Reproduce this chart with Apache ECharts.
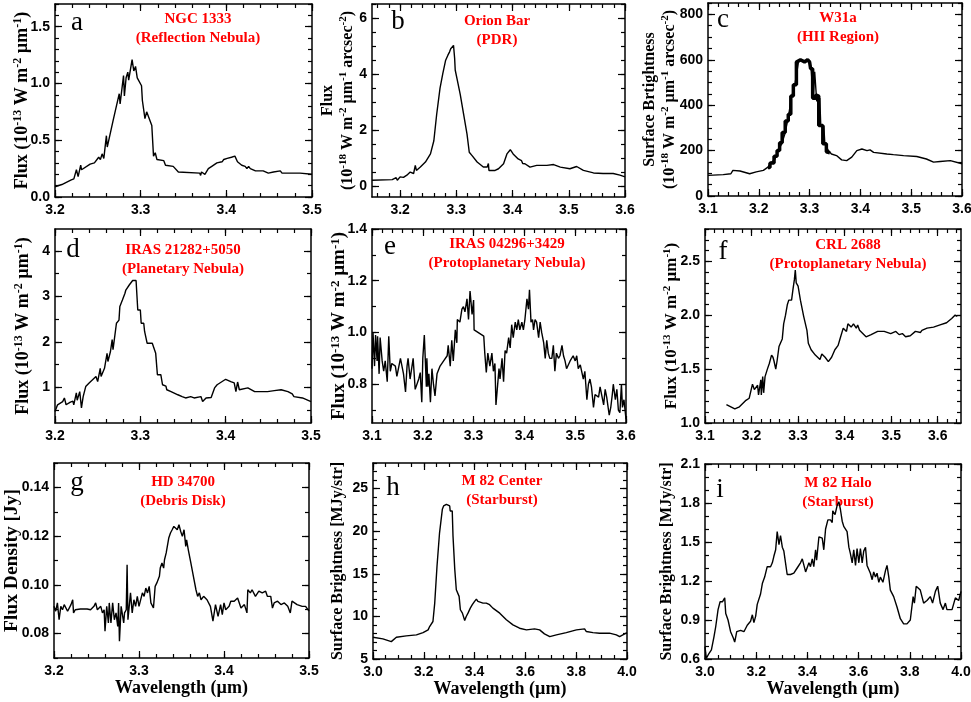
<!DOCTYPE html>
<html>
<head>
<meta charset="utf-8">
<script src="https://cdn.jsdelivr.net/npm/echarts@6/dist/echarts.min.js"></script>
</head>
<body style="margin:0">
<div id="container" style="width:971px;height:702px"></div>
<script type="text/javascript">

// ---- spectra: [wavelength (um), value] ----
var ngc1333 = [[3.200,0.09],[3.208,0.11],[3.219,0.15],[3.222,0.16],[3.225,0.24],[3.227,0.18],[3.230,0.28],[3.231,0.24],[3.241,0.29],[3.246,0.30],[3.251,0.35],[3.253,0.33],[3.255,0.38],[3.257,0.34],[3.260,0.54],[3.261,0.44],[3.268,0.68],[3.275,0.91],[3.276,0.82],[3.280,1.07],[3.281,0.89],[3.283,1.05],[3.285,1.10],[3.286,1.03],[3.290,1.21],[3.292,1.11],[3.294,1.15],[3.296,1.05],[3.301,0.98],[3.302,0.85],[3.304,0.84],[3.305,0.69],[3.307,0.75],[3.309,0.74],[3.313,0.63],[3.315,0.36],[3.317,0.39],[3.319,0.33],[3.327,0.32],[3.329,0.28],[3.338,0.27],[3.344,0.22],[3.346,0.21],[3.369,0.21],[3.370,0.19],[3.371,0.22],[3.375,0.20],[3.379,0.25],[3.383,0.27],[3.389,0.30],[3.395,0.31],[3.397,0.33],[3.401,0.34],[3.406,0.35],[3.410,0.36],[3.413,0.31],[3.418,0.28],[3.422,0.27],[3.424,0.25],[3.426,0.27],[3.428,0.25],[3.434,0.23],[3.443,0.23],[3.449,0.21],[3.455,0.22],[3.463,0.23],[3.465,0.21],[3.477,0.21],[3.486,0.21],[3.500,0.20]];

var orionBar = [[3.150,0.20],[3.186,0.22],[3.193,0.29],[3.195,0.20],[3.200,0.32],[3.203,0.38],[3.206,0.30],[3.212,0.38],[3.218,0.49],[3.224,0.44],[3.227,0.73],[3.229,0.55],[3.236,0.67],[3.245,0.85],[3.254,1.14],[3.260,1.61],[3.265,2.55],[3.271,3.49],[3.276,4.02],[3.278,3.95],[3.281,4.49],[3.285,4.67],[3.288,4.79],[3.290,4.90],[3.295,5.02],[3.297,4.55],[3.298,4.14],[3.301,3.85],[3.307,3.26],[3.313,2.55],[3.319,1.85],[3.323,1.20],[3.328,1.08],[3.337,0.85],[3.348,0.67],[3.355,0.67],[3.357,0.80],[3.358,0.55],[3.369,0.55],[3.375,0.61],[3.384,0.79],[3.390,1.14],[3.396,1.29],[3.401,1.14],[3.410,0.96],[3.416,0.90],[3.418,0.80],[3.420,0.86],[3.422,0.79],[3.431,0.67],[3.443,0.73],[3.461,0.73],[3.473,0.76],[3.485,0.67],[3.502,0.61],[3.514,0.69],[3.526,0.55],[3.544,0.46],[3.561,0.44],[3.579,0.44],[3.591,0.38],[3.600,0.32]];

var w31a = [[3.100,91],[3.130,94],[3.145,98],[3.149,113],[3.163,110],[3.182,98],[3.195,106],[3.209,113],[3.218,127],[3.222,142],[3.232,163],[3.238,200],[3.245,229],[3.251,272],[3.258,344],[3.264,431],[3.271,489],[3.278,590],[3.284,597],[3.287,605],[3.294,597],[3.300,590],[3.303,561],[3.307,431],[3.310,547],[3.314,417],[3.320,431],[3.322,308],[3.328,308],[3.330,229],[3.337,200],[3.343,185],[3.353,178],[3.363,159],[3.373,156],[3.383,171],[3.393,200],[3.403,207],[3.413,200],[3.419,203],[3.426,192],[3.452,185],[3.465,182],[3.485,178],[3.511,174],[3.530,163],[3.544,149],[3.557,152],[3.577,156],[3.600,142]];
// heavy staircase drawn over the W31a band
var w31aSteps = [[3.218,125],[3.222,125],[3.222,145],[3.230,145],[3.230,175],[3.236,175],[3.236,200],[3.241,200],[3.241,235],[3.246,235],[3.246,280],[3.252,280],[3.252,330],[3.258,330],[3.258,360],[3.263,360],[3.263,440],[3.268,440],[3.268,490],[3.274,490],[3.274,590],[3.282,600],[3.290,590],[3.296,600],[3.300,590],[3.302,560],[3.306,560],[3.306,430],[3.312,430],[3.312,445],[3.318,440],[3.318,310],[3.326,310],[3.326,230],[3.333,230],[3.333,195],[3.340,190]];

var iras21282 = [[3.200,0.47],[3.203,0.62],[3.209,0.69],[3.211,0.77],[3.213,0.62],[3.218,0.68],[3.221,0.70],[3.222,0.62],[3.225,0.88],[3.226,0.72],[3.229,0.91],[3.231,0.55],[3.233,0.80],[3.236,1.02],[3.240,1.10],[3.244,1.17],[3.248,1.24],[3.250,1.13],[3.253,1.42],[3.254,1.24],[3.258,1.42],[3.261,1.75],[3.262,1.57],[3.265,1.79],[3.267,2.05],[3.268,1.83],[3.272,2.41],[3.275,2.48],[3.276,2.78],[3.279,2.92],[3.282,3.07],[3.283,3.14],[3.285,3.18],[3.287,3.25],[3.291,3.35],[3.295,3.35],[3.297,2.70],[3.300,2.70],[3.301,2.41],[3.304,2.41],[3.305,2.23],[3.308,1.97],[3.314,1.97],[3.318,1.75],[3.320,1.28],[3.324,1.28],[3.326,1.06],[3.330,1.03],[3.331,0.95],[3.336,0.91],[3.344,0.84],[3.349,0.80],[3.353,0.77],[3.359,0.80],[3.363,0.77],[3.371,0.80],[3.373,0.69],[3.377,0.77],[3.383,0.78],[3.387,0.99],[3.390,1.06],[3.400,1.18],[3.406,1.13],[3.410,1.10],[3.412,0.91],[3.414,1.12],[3.416,0.95],[3.426,0.99],[3.434,0.91],[3.442,0.91],[3.449,0.91],[3.457,0.93],[3.465,0.95],[3.473,0.91],[3.478,0.86],[3.480,0.80],[3.490,0.77],[3.500,0.69]];

var iras04296 = [[3.100,0.86],[3.102,1.00],[3.105,0.87],[3.107,0.99],[3.110,0.89],[3.111,0.985],[3.114,0.84],[3.116,0.98],[3.120,0.89],[3.123,0.85],[3.126,0.89],[3.130,0.81],[3.133,0.985],[3.136,0.85],[3.139,0.88],[3.146,0.87],[3.149,0.83],[3.156,0.90],[3.162,0.84],[3.166,0.77],[3.169,0.87],[3.171,0.90],[3.175,0.82],[3.181,0.90],[3.185,0.78],[3.192,0.82],[3.195,0.845],[3.198,0.73],[3.200,0.90],[3.203,0.99],[3.207,0.79],[3.208,0.90],[3.210,0.79],[3.212,0.84],[3.215,0.73],[3.218,0.86],[3.221,0.80],[3.224,0.755],[3.228,0.84],[3.234,0.87],[3.241,0.89],[3.248,0.91],[3.250,0.95],[3.254,0.87],[3.257,0.97],[3.260,0.89],[3.264,1.01],[3.267,0.96],[3.268,1.05],[3.273,1.04],[3.277,1.09],[3.280,1.10],[3.283,1.08],[3.287,1.13],[3.290,1.05],[3.293,1.16],[3.297,1.07],[3.300,1.125],[3.301,1.01],[3.320,0.986],[3.322,0.92],[3.325,0.845],[3.328,0.92],[3.332,0.87],[3.336,0.92],[3.339,0.85],[3.342,0.88],[3.344,0.72],[3.347,0.72],[3.350,0.86],[3.352,0.82],[3.356,0.90],[3.359,0.81],[3.362,0.93],[3.365,0.92],[3.369,0.98],[3.372,0.94],[3.375,1.03],[3.378,0.98],[3.382,1.04],[3.385,1.01],[3.388,1.05],[3.391,1.01],[3.395,1.04],[3.398,1.01],[3.401,1.05],[3.405,1.13],[3.408,1.09],[3.410,1.165],[3.413,1.04],[3.416,1.05],[3.418,1.01],[3.421,1.05],[3.424,1.04],[3.428,0.98],[3.431,1.04],[3.434,1.00],[3.438,0.96],[3.441,0.90],[3.444,0.97],[3.447,0.92],[3.450,0.90],[3.454,0.90],[3.457,0.95],[3.460,0.85],[3.463,0.92],[3.467,0.90],[3.470,0.91],[3.474,0.95],[3.477,0.91],[3.480,0.89],[3.483,0.86],[3.490,0.89],[3.496,0.91],[3.500,0.89],[3.503,0.91],[3.506,0.86],[3.510,0.875],[3.516,0.82],[3.519,0.85],[3.523,0.74],[3.526,0.80],[3.529,0.82],[3.532,0.79],[3.536,0.71],[3.539,0.76],[3.542,0.76],[3.546,0.75],[3.549,0.79],[3.552,0.76],[3.556,0.72],[3.559,0.78],[3.562,0.75],[3.567,0.68],[3.570,0.71],[3.573,0.76],[3.575,0.80],[3.579,0.74],[3.582,0.78],[3.585,0.70],[3.588,0.69],[3.591,0.80],[3.593,0.71],[3.596,0.74],[3.600,0.665]];

var crl2688 = [[3.146,1.17],[3.164,1.13],[3.174,1.15],[3.181,1.18],[3.188,1.21],[3.195,1.23],[3.202,1.36],[3.206,1.31],[3.209,1.30],[3.213,1.35],[3.215,1.26],[3.220,1.40],[3.221,1.26],[3.224,1.43],[3.226,1.28],[3.229,1.43],[3.234,1.50],[3.238,1.55],[3.243,1.63],[3.246,1.61],[3.248,1.58],[3.252,1.50],[3.255,1.58],[3.259,1.71],[3.262,1.74],[3.266,1.78],[3.269,1.92],[3.273,2.00],[3.277,2.10],[3.280,2.14],[3.286,2.14],[3.289,2.24],[3.291,2.30],[3.292,2.33],[3.294,2.42],[3.296,2.30],[3.300,2.27],[3.305,2.14],[3.312,1.99],[3.319,1.86],[3.322,1.74],[3.328,1.68],[3.337,1.63],[3.347,1.59],[3.351,1.64],[3.358,1.61],[3.365,1.57],[3.372,1.61],[3.379,1.68],[3.386,1.72],[3.390,1.78],[3.397,1.88],[3.404,1.85],[3.407,1.92],[3.414,1.89],[3.419,1.92],[3.425,1.88],[3.428,1.91],[3.432,1.86],[3.439,1.83],[3.446,1.80],[3.457,1.82],[3.471,1.85],[3.485,1.85],[3.499,1.83],[3.510,1.85],[3.517,1.82],[3.524,1.83],[3.531,1.80],[3.541,1.81],[3.552,1.85],[3.563,1.84],[3.566,1.86],[3.577,1.88],[3.591,1.89],[3.605,1.91],[3.619,1.93],[3.630,1.97],[3.637,2.00],[3.642,1.99]];

var hd34700 = [[3.200,0.0912],[3.202,0.0892],[3.204,0.0926],[3.206,0.0857],[3.208,0.0912],[3.210,0.0898],[3.212,0.0919],[3.216,0.0892],[3.220,0.0919],[3.222,0.0939],[3.223,0.0885],[3.225,0.0898],[3.231,0.0901],[3.239,0.0901],[3.243,0.0898],[3.247,0.0912],[3.249,0.0926],[3.251,0.0898],[3.255,0.0912],[3.257,0.0885],[3.259,0.0898],[3.260,0.0810],[3.262,0.0912],[3.264,0.0844],[3.265,0.0926],[3.267,0.0844],[3.269,0.0926],[3.271,0.0857],[3.273,0.0885],[3.275,0.0830],[3.276,0.0926],[3.277,0.0769],[3.279,0.0912],[3.282,0.0844],[3.283,0.0885],[3.285,0.0898],[3.286,0.1083],[3.287,0.0857],[3.290,0.0967],[3.292,0.0885],[3.294,0.0939],[3.296,0.0912],[3.298,0.0953],[3.300,0.0912],[3.304,0.0967],[3.306,0.0953],[3.308,0.0987],[3.310,0.0967],[3.312,0.0994],[3.314,0.0926],[3.317,0.0905],[3.319,0.0994],[3.321,0.1008],[3.324,0.1035],[3.325,0.1069],[3.327,0.1090],[3.329,0.1069],[3.330,0.1103],[3.332,0.1131],[3.335,0.1192],[3.337,0.1213],[3.339,0.1226],[3.341,0.1240],[3.343,0.1247],[3.345,0.1226],[3.347,0.1247],[3.349,0.1220],[3.351,0.1199],[3.353,0.1226],[3.355,0.1158],[3.356,0.1185],[3.358,0.1144],[3.361,0.1090],[3.364,0.1035],[3.367,0.0980],[3.369,0.0953],[3.371,0.0967],[3.373,0.0939],[3.376,0.0953],[3.380,0.0939],[3.384,0.0912],[3.387,0.0851],[3.390,0.0919],[3.393,0.0871],[3.396,0.0919],[3.398,0.0878],[3.400,0.0926],[3.402,0.0898],[3.406,0.0912],[3.408,0.0933],[3.412,0.0933],[3.416,0.0946],[3.420,0.0905],[3.424,0.0919],[3.427,0.0885],[3.428,0.0980],[3.431,0.0967],[3.433,0.0980],[3.437,0.0953],[3.441,0.0974],[3.445,0.0967],[3.449,0.0974],[3.451,0.0953],[3.455,0.0953],[3.457,0.0905],[3.459,0.0926],[3.463,0.0933],[3.467,0.0919],[3.471,0.0926],[3.475,0.0912],[3.478,0.0885],[3.480,0.0933],[3.486,0.0919],[3.492,0.0912],[3.496,0.0912],[3.500,0.0892]];

var m82Center = [[3.000,7.55],[3.039,7.36],[3.072,7.04],[3.078,7.04],[3.092,7.55],[3.131,7.71],[3.171,7.83],[3.197,8.10],[3.204,8.03],[3.217,8.42],[3.223,8.81],[3.236,9.40],[3.243,11.56],[3.252,15.88],[3.262,19.81],[3.273,22.56],[3.278,22.96],[3.289,23.15],[3.295,23.35],[3.302,22.96],[3.304,22.37],[3.312,22.37],[3.315,19.42],[3.322,15.49],[3.328,13.13],[3.339,12.35],[3.344,10.78],[3.352,10.38],[3.361,9.52],[3.367,9.99],[3.374,10.38],[3.383,10.97],[3.391,11.37],[3.400,11.76],[3.407,12.03],[3.413,11.76],[3.420,11.64],[3.433,11.56],[3.446,11.56],[3.459,11.37],[3.472,10.97],[3.499,10.38],[3.525,9.60],[3.551,9.01],[3.577,8.61],[3.604,8.42],[3.636,8.54],[3.656,8.42],[3.675,7.95],[3.696,7.63],[3.722,7.83],[3.761,8.10],[3.801,8.42],[3.833,8.54],[3.840,8.22],[3.866,8.10],[3.892,8.03],[3.931,8.03],[3.958,7.83],[3.971,7.63],[4.000,8.10]];

var m82Halo = [[3.000,0.695],[3.005,0.605],[3.016,0.644],[3.025,0.67],[3.035,0.77],[3.042,0.85],[3.046,0.84],[3.051,0.98],[3.059,1.04],[3.068,1.04],[3.074,1.03],[3.077,1.07],[3.081,0.95],[3.090,0.90],[3.100,0.81],[3.111,0.76],[3.116,0.73],[3.124,0.81],[3.139,0.82],[3.152,0.81],[3.165,0.86],[3.178,0.89],[3.185,0.94],[3.191,0.88],[3.198,0.93],[3.204,1.02],[3.217,1.10],[3.224,1.18],[3.233,1.23],[3.243,1.31],[3.256,1.31],[3.263,1.34],[3.269,1.39],[3.276,1.44],[3.282,1.58],[3.289,1.48],[3.295,1.55],[3.302,1.46],[3.308,1.43],[3.321,1.25],[3.334,1.25],[3.347,1.26],[3.360,1.30],[3.373,1.34],[3.380,1.37],[3.386,1.36],[3.393,1.27],[3.406,1.34],[3.412,1.31],[3.419,1.37],[3.425,1.31],[3.432,1.44],[3.436,1.36],[3.445,1.54],[3.458,1.53],[3.464,1.44],[3.471,1.60],[3.480,1.67],[3.490,1.67],[3.497,1.65],[3.499,1.74],[3.508,1.71],[3.516,1.78],[3.523,1.81],[3.529,1.75],[3.536,1.66],[3.542,1.62],[3.555,1.58],[3.562,1.46],[3.568,1.41],[3.575,1.34],[3.581,1.44],[3.588,1.32],[3.594,1.45],[3.601,1.34],[3.607,1.45],[3.614,1.34],[3.620,1.43],[3.627,1.46],[3.633,1.32],[3.646,1.26],[3.653,1.21],[3.659,1.27],[3.666,1.23],[3.672,1.26],[3.679,1.19],[3.685,1.23],[3.695,1.19],[3.705,1.28],[3.711,1.32],[3.718,1.23],[3.724,1.13],[3.737,1.08],[3.750,1.00],[3.763,0.91],[3.776,0.87],[3.789,0.87],[3.802,0.90],[3.813,1.08],[3.818,1.03],[3.825,1.16],[3.841,1.13],[3.854,1.03],[3.867,1.05],[3.880,1.08],[3.889,1.03],[3.900,1.12],[3.909,1.16],[3.919,1.03],[3.930,0.98],[3.939,1.03],[3.945,0.98],[3.965,0.98],[3.978,1.07],[3.991,1.05],[4.000,1.12]];

// ---- tick labels ----
var xTicksA = [3.2, 3.3, 3.4, 3.5];
var xTicksB = [3.2, 3.3, 3.4, 3.5, 3.6];
var xTicksC = [3.1, 3.2, 3.3, 3.4, 3.5, 3.6];
var xTicksF = [3.1, 3.2, 3.3, 3.4, 3.5, 3.6];
var xTicksH = [3.0, 3.2, 3.4, 3.6, 3.8, 4.0];
var yTicksA = [0.0, 0.5, 1.0, 1.5];
var yTicksB = [0, 2, 4, 6];
var yTicksC = [0, 200, 400, 600, 800];
var yTicksD = [1, 2, 3, 4];
var yTicksE = [0.8, 1.0, 1.2, 1.4];
var yTicksF = [1.0, 1.5, 2.0, 2.5];
var yTicksG = [0.08, 0.10, 0.12, 0.14];
var yTicksH = [5, 10, 15, 20, 25];
var yTicksI = [0.6, 0.9, 1.2, 1.5, 1.8, 2.1];

// ---- panel texts ----
var letters = ['a', 'b', 'c', 'd', 'e', 'f', 'g', 'h', 'i'];
var objects = [
  ['NGC 1333', '(Reflection Nebula)'],
  ['Orion Bar', '(PDR)'],
  ['W31a', '(HII Region)'],
  ['IRAS 21282+5050', '(Planetary Nebula)'],
  ['IRAS 04296+3429', '(Protoplanetary Nebula)'],
  ['CRL 2688', '(Protoplanetary Nebula)'],
  ['HD 34700', '(Debris Disk)'],
  ['M 82 Center', '(Starburst)'],
  ['M 82 Halo', '(Starburst)']
];
var fluxName13 = '{t|Flux (10}{s|-13}{t| W m}{s|-2}{t| \u00b5m}{s|-1}{t|)}';
var yNames = [
  fluxName13,
  '{t|Flux}\n{t|(10}{s|-18}{t| W m}{s|-2}{t| \u00b5m}{s|-1}{t| arcsec}{s|-2}{t|)}',
  '{t|Surface Brtightness}\n{t|(10}{s|-18}{t| W m}{s|-2}{t| \u00b5m}{s|-1}{t| arcsec}{s|-2}{t|)}',
  fluxName13, fluxName13, fluxName13,
  '{t|Flux Density [Jy]}',
  '{t|Surface Brightness [MJy/str]}',
  '{t|Surface Brightness [MJy/str]}'
];
var xName = 'Wavelength (\u00b5m)';

// layout / styling per panel (fs = y title font size)
var panels = [
  {g:[55,4,257,193],   d:ngc1333,   x:[3.2,3.5],  y:[0,1.7],     xt:xTicksA, yt:yTicksA, xm:0.02, ym:0.1,  xd:1, yd:1, fs:18, gap:23, L:[77,23],  T:[198,19]},
  {g:[372,4,253,193],  d:orionBar,  x:[3.15,3.6], y:[-0.4,6.5],  xt:xTicksB, yt:yTicksB, xm:0.02, ym:0.5,  xd:1, yd:0, fs:16, gap:14, L:[398,22], T:[497,21]},
  {g:[708,3,254,193],  d:w31a,      x:[3.1,3.6],  y:[0,850],     xt:xTicksC, yt:yTicksC, xm:0.02, ym:50,   xd:1, yd:0, fs:16, gap:28, L:[723,20], T:[838,18]},
  {g:[55,229,256,194], d:iras21282, x:[3.2,3.5],  y:[0.22,4.48], xt:xTicksA, yt:yTicksD, xm:0.02, ym:0.5,  xd:1, yd:0, fs:18, gap:22, L:[73,250], T:[183,250]},
  {g:[372,229,254,194],d:iras04296, x:[3.1,3.6],  y:[0.65,1.4],  xt:xTicksC, yt:yTicksE, xm:0.02, ym:0.1,  xd:1, yd:1, fs:19, gap:23, L:[390,247],T:[507,244]},
  {g:[705,229,256,194],d:crl2688,   x:[3.1,3.65], y:[1.0,2.8],   xt:xTicksF, yt:yTicksF, xm:0.02, ym:0.1,  xd:1, yd:1, fs:17, gap:23, L:[723,252],T:[848,245]},
  {g:[54,463,255,195], d:hd34700,   x:[3.2,3.5],  y:[0.07,0.15], xt:xTicksA, yt:yTicksG, xm:0.02, ym:0.01, xd:1, yd:2, fs:19.5, gap:32, L:[77,483], T:[183,482]},
  {g:[373,463,254,196],d:m82Center, x:[3.0,4.0],  y:[5,28],      xt:xTicksH, yt:yTicksH, xm:0.05, ym:1,    xd:1, yd:0, fs:16, gap:25, L:[393,488],T:[502,481]},
  {g:[705,464,256,195],d:m82Halo,   x:[3.0,4.0],  y:[0.6,2.1],   xt:xTicksH, yt:yTicksI, xm:0.05, ym:0.1,  xd:1, yd:1, fs:16, gap:28, L:[720,490],T:[838,483]}
];

function minors(lo, hi, step) {
  var out = [];
  for (var k = Math.ceil(lo / step - 1e-6); k * step <= hi + 1e-9; k++) out.push(+(k * step).toFixed(6));
  return out;
}

var black = '#000';
var labelFont = {color: black, fontWeight: 'bold', fontSize: 14, fontFamily: 'Liberation Sans'};
function richFor(fs) {
  return {
    t: {fontFamily: 'Liberation Serif', fontWeight: 'bold', fontSize: fs, lineHeight: 20, color: black},
    s: {fontFamily: 'Liberation Serif', fontWeight: 'bold', fontSize: Math.round(fs * 0.66), lineHeight: 12, verticalAlign: 'top', color: black}
  };
}

function axisSet(dim, gi, p, bottomRow) {
  var lim = dim === 'x' ? p.x : p.y;
  var majors = dim === 'x' ? p.xt : p.yt;
  var mnr = minors(lim[0], lim[1], dim === 'x' ? p.xm : p.ym);
  var dec = dim === 'x' ? p.xd : p.yd;
  var pos = dim === 'x' ? ['bottom', 'top'] : ['left', 'right'];
  var list = [];
  for (var side = 0; side < 2; side++) {
    for (var kind = 0; kind < 2; kind++) {
      var isMajor = kind === 0;
      var ax = {
        type: 'value', gridIndex: gi, position: pos[side], min: lim[0], max: lim[1],
        axisLine: {show: isMajor, onZero: false, lineStyle: {color: black, width: 1.5}},
        axisTick: {show: true, inside: true, length: isMajor ? 7 : 4,
                   customValues: isMajor ? majors : mnr, lineStyle: {color: black, width: 1.2}},
        axisLabel: {show: false},
        splitLine: {show: false}
      };
      if (side === 0 && isMajor) {
        ax.axisLabel = Object.assign({show: true, customValues: majors, margin: dim === 'x' ? 6 : 5,
          formatter: (function (d) { return function (v) { return v.toFixed(d); }; })(dec)}, labelFont);
        if (dim === 'y') {
          ax.name = yNames[gi];
          ax.nameLocation = 'middle';
          ax.nameRotate = 90;
          ax.nameGap = p.gap;
          ax.nameMoveOverlap = false;
          ax.nameTextStyle = {rich: richFor(p.fs)};
        } else if (bottomRow) {
          ax.name = xName;
          ax.nameLocation = 'middle';
          ax.nameGap = 19;
          ax.nameTextStyle = {fontFamily: 'Liberation Serif', fontWeight: 'bold', fontSize: 18, color: black};
        }
      }
      list.push(ax);
    }
  }
  return list;
}

var grids = [], xAxes = [], yAxes = [], series = [], graphics = [];
panels.forEach(function (p, gi) {
  grids.push({left: p.g[0], top: p.g[1], width: p.g[2], height: p.g[3], outerBoundsMode: 'none'});
  xAxes = xAxes.concat(axisSet('x', gi, p, gi >= 6));
  yAxes = yAxes.concat(axisSet('y', gi, p, false));
  series.push({type: 'line', xAxisIndex: 4 * gi, yAxisIndex: 4 * gi, data: p.d, showSymbol: false,
               symbol: 'none', lineStyle: {color: black, width: 1.4}});
  graphics.push({type: 'text', x: p.L[0], y: p.L[1],
                 style: {text: letters[gi], font: '27px "Liberation Serif"', fill: black,
                         textAlign: 'center', textVerticalAlign: 'middle'}});
  objects[gi].forEach(function (line, li) {
    graphics.push({type: 'text', x: p.T[0], y: p.T[1] + li * 19,
                   style: {text: line, font: 'bold 15px "Liberation Serif"', fill: '#ff0000',
                           textAlign: 'center', textVerticalAlign: 'middle'}});
  });
});
series.push({type: 'line', xAxisIndex: 8, yAxisIndex: 8, data: w31aSteps, showSymbol: false,
             symbol: 'none', lineStyle: {color: black, width: 3.5}});

var myChart = echarts.init(document.getElementById('container'));
var option = {
  animation: false,
  backgroundColor: '#fff',
  grid: grids,
  xAxis: xAxes,
  yAxis: yAxes,
  series: series,
  graphic: graphics
};
myChart.setOption(option);

</script>
</body>
</html>
